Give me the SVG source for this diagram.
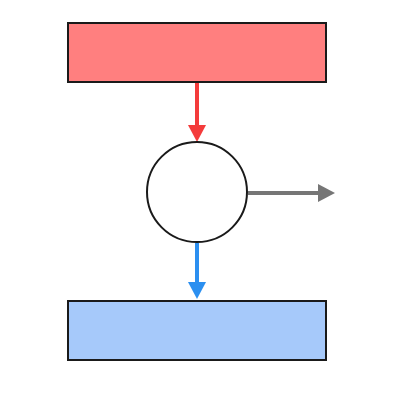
<svg xmlns="http://www.w3.org/2000/svg" width="400" height="400" viewBox="0 0 400 400">
<style>
.box{stroke:#1a1a1a;stroke-width:2}
.conn{stroke-width:4;fill:none}
</style>
<defs>
<marker id="hr" markerUnits="userSpaceOnUse" markerWidth="18" markerHeight="18" refX="0" refY="9" orient="auto" overflow="visible"><path d="M0,0 L17,9 L0,18 Z" fill="#f43b3b"/></marker>
<marker id="hb" markerUnits="userSpaceOnUse" markerWidth="18" markerHeight="18" refX="0" refY="9" orient="auto" overflow="visible"><path d="M0,0 L17,9 L0,18 Z" fill="#2b8ff0"/></marker>
<marker id="hg" markerUnits="userSpaceOnUse" markerWidth="18" markerHeight="18" refX="0" refY="9" orient="auto" overflow="visible"><path d="M0,0 L17,9 L0,18 Z" fill="#767676"/></marker>
</defs>
<rect width="400" height="400" fill="#ffffff"/>
<g id="connectors">
<line class="conn" x1="197" y1="83" x2="197" y2="125" stroke="#f43b3b" marker-end="url(#hr)"/>
<line class="conn" x1="197" y1="243" x2="197" y2="282" stroke="#2b8ff0" marker-end="url(#hb)"/>
<line class="conn" x1="248" y1="193" x2="318" y2="193" stroke="#767676" marker-end="url(#hg)"/>
</g>
<g id="top"><rect class="box" x="68" y="23" width="258" height="59" fill="#ff7f7f"/></g>
<g id="center"><circle class="box" cx="197" cy="192" r="50" fill="#ffffff"/></g>
<g id="bottom"><rect class="box" x="68" y="301" width="258" height="59" fill="#a6c9fa"/></g>
</svg>
